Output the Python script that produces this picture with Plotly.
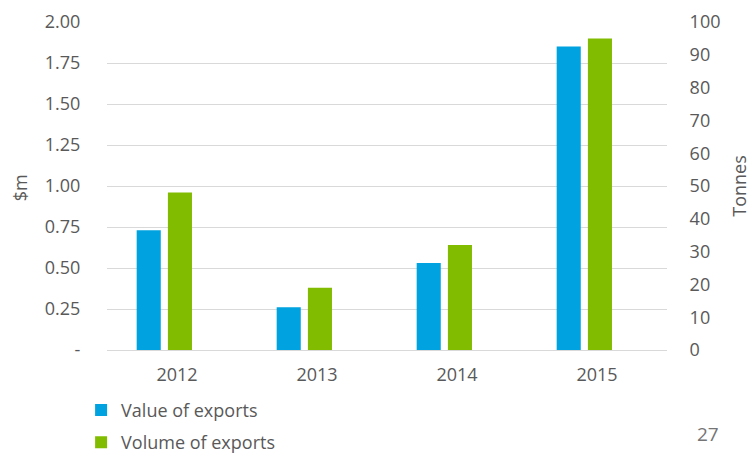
import plotly.graph_objects as go

# Export figures by year
years = ["2012", "2013", "2014", "2015"]
value_exports = [0.73, 0.26, 0.53, 1.85]   # $m
volume_exports = [48, 19, 32, 95]          # tonnes

left_ticks = [0, 0.25, 0.5, 0.75, 1.0, 1.25, 1.5, 1.75, 2.0]
left_labels = ["-", "0.25", "0.50", "0.75", "1.00", "1.25", "1.50", "1.75", "2.00"]
right_ticks = list(range(0, 101, 10))

FONT = "Open Sans"
TEXT = "#595959"
GRID = "#D9D9D9"
BLUE = "#00A2DF"
GREEN = "#82BC00"
CLEAR = "rgba(0,0,0,0)"
FS = 18

# bar width and left-edge offsets, in category units
BAR_W = 0.172
fig = go.Figure()
fig.add_trace(go.Bar(
    x=years, y=value_exports, name="Value of exports",
    marker=dict(color=BLUE, line=dict(width=0)),
    width=BAR_W, offset=-0.288, legendgroup="a", yaxis="y",
))
fig.add_trace(go.Bar(
    x=years, y=volume_exports, name="Volume of exports",
    marker=dict(color=GREEN, line=dict(width=0)),
    width=BAR_W, offset=-0.065, legendgroup="b", yaxis="y2",
))

fig.update_layout(
    width=751, height=455,
    margin=dict(l=107, r=84, t=22, b=105, autoexpand=False),
    paper_bgcolor="white", plot_bgcolor="white",
    font=dict(family=FONT, size=FS, color=TEXT),
    barmode="overlay",
    xaxis=dict(
        showgrid=False, showline=True, linecolor=GRID, linewidth=1,
        ticks="outside", ticklen=8, tickcolor=CLEAR,
        tickfont=dict(size=FS, color=TEXT),
    ),
    yaxis=dict(
        range=[0, 2.0], tickvals=left_ticks, ticktext=left_labels,
        showgrid=True, gridcolor=GRID, gridwidth=1,
        zeroline=False, showline=False,
        ticks="outside", ticklen=22, tickcolor=CLEAR,
        tickfont=dict(size=FS, color=TEXT),
    ),
    yaxis2=dict(
        range=[0, 100], tickvals=right_ticks, overlaying="y", side="right",
        showgrid=False, zeroline=False, showline=False,
        ticks="outside", ticklen=18, tickcolor=CLEAR,
        title=dict(text="Tonnes", standoff=14, font=dict(size=FS, color=TEXT)),
        tickfont=dict(size=FS, color=TEXT),
    ),
    legend=dict(
        orientation="v", xref="container", yref="container",
        x=0.108, y=0.139, xanchor="left", yanchor="top",
        font=dict(size=FS, color=TEXT), tracegroupgap=6,
        itemwidth=30, bgcolor=CLEAR,
    ),
    showlegend=True,
    annotations=[
        # left axis title
        dict(
            text="$m", xref="paper", yref="paper", x=-0.155, y=0.494,
            xanchor="center", yanchor="middle", textangle=-90, showarrow=False,
            font=dict(family=FONT, size=FS, color=TEXT),
        ),
        # page number
        dict(
            text="27", xref="paper", yref="paper", x=1.073, y=-0.256,
            xanchor="center", yanchor="middle", showarrow=False,
            font=dict(family=FONT, size=19, color="#757575"),
        ),
    ],
)

fig.write_html("out.html")
